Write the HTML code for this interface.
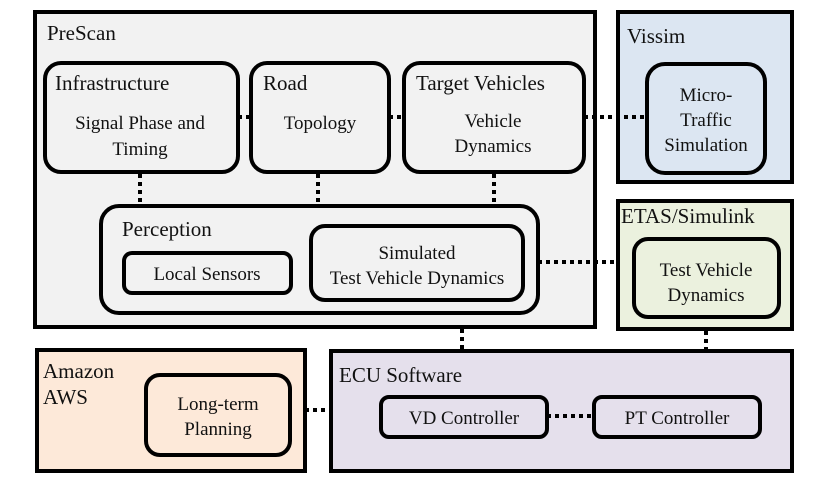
<!DOCTYPE html>
<html><head><meta charset="utf-8"><style>
body{margin:0;background:#fff}
svg text{font-family:'Liberation Serif','Times New Roman',Times,serif !important;fill:#111}
</style></head><body>
<svg width="830" height="499" viewBox="0 0 830 499" xmlns="http://www.w3.org/2000/svg" font-family="'Liberation Serif', 'Times New Roman', serif">
<g stroke="#000" stroke-width="4">
<rect x="35" y="12" width="560" height="315" fill="#f2f2f2"/>
<rect x="618" y="12" width="174" height="170" fill="#dce6f2"/>
<rect x="618" y="201" width="174" height="128" fill="#ebf1de"/>
<rect x="37" y="350" width="268" height="121" fill="#fde9d9"/>
<rect x="331" y="351" width="461" height="120" fill="#e5e0ec"/>
<g fill="#f2f2f2">
<rect x="45" y="63" width="193" height="109" rx="16"/>
<rect x="251" y="63" width="138" height="109" rx="16"/>
<rect x="404" y="63" width="180" height="109" rx="16"/>
<rect x="101" y="206" width="437" height="107" rx="18"/>
<rect x="124" y="253" width="167" height="40" rx="8"/>
<rect x="311" y="226" width="212" height="74" rx="14"/>
</g>
<rect x="647" y="64" width="118" height="109" rx="18" fill="#dce6f2"/>
<rect x="634" y="239" width="145" height="78" rx="14" fill="#ebf1de"/>
<rect x="146" y="375" width="144" height="80" rx="14" fill="#fde9d9"/>
<rect x="381" y="397" width="166" height="40" rx="8" fill="#e5e0ec"/>
<rect x="594" y="397" width="166" height="40" rx="8" fill="#e5e0ec"/>
</g>
<g stroke="#000" stroke-width="4" stroke-dasharray="4 4" fill="none">
<path d="M238 117H251M389 117H404M584 117H647"/>
<path d="M140 174V206M318 174V206M494 174V206"/>
<path d="M538 262H618"/>
<path d="M462 329V351M706 331V351"/>
<path d="M305 410H331M547 416H594"/>
</g>
<g font-size="21">
<text x="47" y="40">PreScan</text>
<text x="627" y="43">Vissim</text>
<text x="621" y="223">ETAS/Simulink</text>
<text x="43" y="378">Amazon</text>
<text x="43" y="404">AWS</text>
<text x="339" y="382">ECU Software</text>
<text x="55" y="90">Infrastructure</text>
<text x="263" y="90">Road</text>
<text x="416" y="90">Target Vehicles</text>
<text x="122" y="236">Perception</text>
</g>
<g font-size="19" text-anchor="middle">
<text x="140" y="129">Signal Phase and</text>
<text x="140" y="155">Timing</text>
<text x="320" y="129">Topology</text>
<text x="493" y="127">Vehicle</text>
<text x="493" y="152">Dynamics</text>
<text x="706" y="101">Micro-</text>
<text x="706" y="126">Traffic</text>
<text x="706" y="151">Simulation</text>
<text x="207" y="280">Local Sensors</text>
<text x="417" y="259">Simulated</text>
<text x="417" y="284">Test Vehicle Dynamics</text>
<text x="706" y="276">Test Vehicle</text>
<text x="706" y="301">Dynamics</text>
<text x="218" y="410">Long-term</text>
<text x="218" y="435">Planning</text>
<text x="464" y="424">VD Controller</text>
<text x="677" y="424">PT Controller</text>
</g>
</svg>
</body></html>
